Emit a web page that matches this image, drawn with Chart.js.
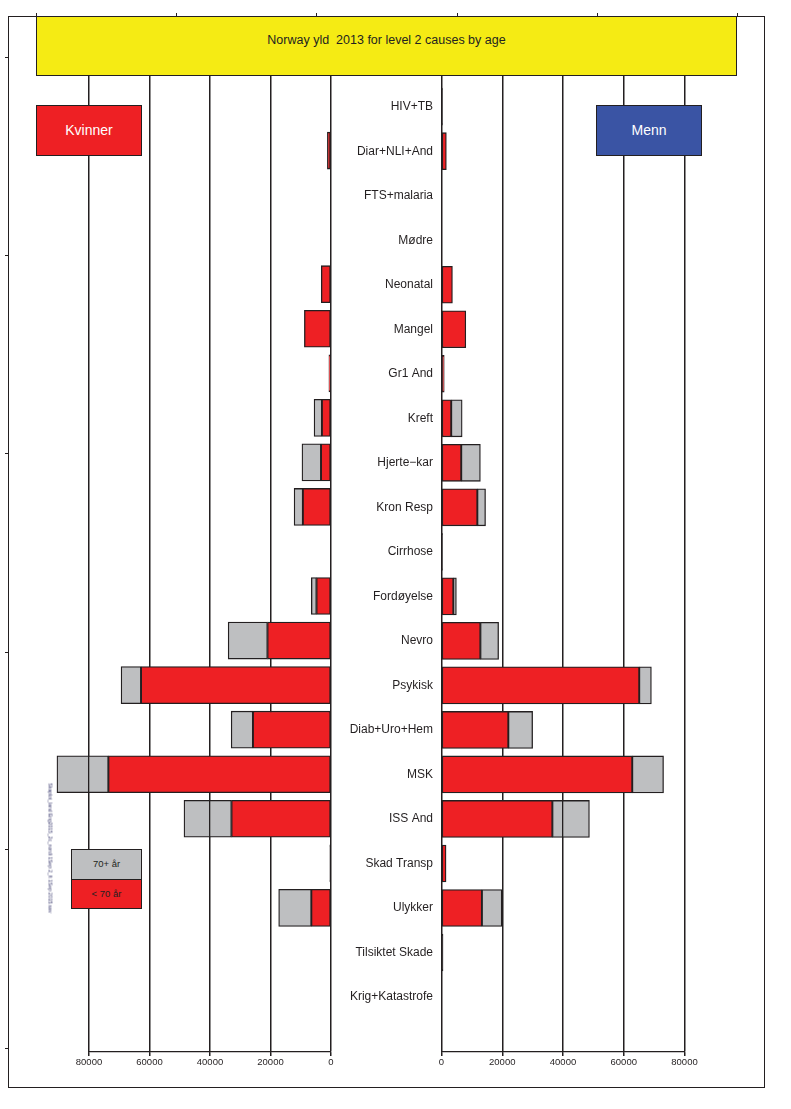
<!DOCTYPE html>
<html>
<head>
<meta charset="utf-8">
<title>Norway yld 2013 for level 2 causes by age</title>
<script src="https://cdn.jsdelivr.net/npm/chart.js@4.4.0/dist/chart.umd.min.js"></script>
<style>
  * { box-sizing: border-box; }
  body { margin: 0; background: #fff; font-family: "Liberation Sans", Arial, sans-serif; color: #231F20; }
  #page { position: relative; width: 791px; height: 1109px; overflow: hidden; }
  .abs { position: absolute; }
  #frame { left: 8px; top: 15.5px; width: 757px; height: 1072px; border: 1.5px solid #231F20; }
  .tick-top { top: 13px; width: 1.2px; height: 3px; background: #231F20; }
  .tick-left { left: 5px; width: 3px; height: 1.2px; background: #231F20; }
  #title { left: 36px; top: 16px; width: 701px; height: 59.5px; background: #F5EB14; border: 1.2px solid #231F20;
           text-align: center; font-size: 12.5px; line-height: 16px; padding-top: 15px; white-space: pre; z-index: 3; }
  .sexbox { top: 105px; width: 106px; height: 50.5px; border: 1.3px solid #231F20; color: #fff;
            font-size: 14px; line-height: 48px; text-align: center; z-index: 3; }
  #kvinner { left: 36px; background: #EE2024; }
  #menn { left: 596px; background: #3A54A4; }
  .legend { left: 71px; width: 71px; border: 1.3px solid #231F20; font-size: 9.5px; text-align: center; z-index: 3; }
  #leg-old { top: 849px; height: 31px; line-height: 28px; background: #BEBFC1; }
  #leg-young { top: 879px; height: 30px; line-height: 27px; background: #EE2024; }
  #stamp { left: -22px; top: 845px; width: 145px; font-size: 5px; color: #34346a; transform: rotate(90deg);
           white-space: nowrap; text-align: center; }
  canvas { position: absolute; }
  #left-chart { left: 40px; top: 60px; }
  #right-chart { left: 336px; top: 60px; }
</style>
</head>
<body>
<div id="page">
  <div id="frame" class="abs"></div>
  <canvas id="left-chart" width="310" height="1017"></canvas>
  <canvas id="right-chart" width="380" height="1017"></canvas>
  <div id="title" class="abs">Norway yld  2013 for level 2 causes by age</div>
  <div id="kvinner" class="abs sexbox">Kvinner</div>
  <div id="menn" class="abs sexbox">Menn</div>
  <div id="leg-old" class="abs legend">70+ år</div>
  <div id="leg-young" class="abs legend">&lt; 70 år</div>
  <div id="stamp" class="abs">Skaplot_land Eng2015_2c_nordi 1Sep 2_ft 1Sep 2015.sav</div>
</div>
<script>
  const categories = ["HIV+TB", "Diar+NLI+And", "FTS+malaria", "Mødre", "Neonatal", "Mangel", "Gr1 And",
    "Kreft", "Hjerte\u2212kar", "Kron Resp", "Cirrhose", "Fordøyelse", "Nevro", "Psykisk", "Diab+Uro+Hem",
    "MSK", "ISS And", "Skad Transp", "Ulykker", "Tilsiktet Skade", "Krig+Katastrofe"];

  // Kvinner (women): under 70 and 70+
  const kvinnerUnder70 = [0, 1200, 0, 0, 3200, 8800, 700, 3000, 3300, 9300, 0, 4800, 21000, 62800, 25800,
    73600, 32900, 400, 6500, 100, 0];
  const kvinner70Plus = [0, 0, 0, 0, 0, 0, 0, 2600, 6300, 2900, 0, 1700, 13000, 6600, 7200,
    17000, 15700, 0, 10800, 0, 0];

  // Menn (men): under 70 and 70+
  const mennUnder70 = [300, 1600, 0, 0, 3600, 8000, 900, 3200, 6500, 11800, 300, 3900, 12800, 65100, 22000,
    62800, 36500, 1500, 13300, 500, 0];
  const menn70Plus = [0, 0, 0, 0, 0, 0, 0, 3600, 6300, 2700, 0, 1000, 6000, 4000, 8000,
    10300, 12200, 0, 6600, 0, 0];

  const xTicks = [0, 20000, 40000, 60000, 80000];

  const RED = "#EE2024";
  const GREY = "#BEBFC1";
  const INK = "#231F20";

  Chart.defaults.font.family = "'Liberation Sans', Arial, sans-serif";
  Chart.defaults.color = INK;

  function toPoints(values) {
    return values.map((v, i) => ({ x: v, y: i }));
  }

  // very thin bars look like black strokes in the original
  function edgeFill(values, fill) {
    return values.map((v) => (v > 0 && v < 700 ? INK : fill));
  }

  function makeDatasets(young, old) {
    return [
      { label: "< 70 år", data: toPoints(young), backgroundColor: edgeFill(young, RED), borderColor: INK,
        borderWidth: 1.3, borderSkipped: false, barThickness: 37, clip: false },
      { label: "70+ år", data: toPoints(old), backgroundColor: GREY, borderColor: INK,
        borderWidth: 1.3, borderSkipped: false, barThickness: 37, clip: false }
    ];
  }

  // the grid shows through the grey (70+) bars but not the red ones
  const gridOverGrey = {
    id: "gridOverGrey",
    afterDatasetDraw(chart, args) {
      if (args.index === 1) chart.scales.x.drawGrid(chart.chartArea);
    }
  };

  function xScale(reverse) {
    return {
      type: "linear",
      stacked: true,
      reverse: reverse,
      min: 0,
      max: 80000,
      afterBuildTicks: (axis) => { axis.ticks = xTicks.map((v) => ({ value: v })); },
      afterFit: (axis) => { axis.height = 25; },
      grid: { color: INK, lineWidth: 1.3, tickLength: 4, drawTicks: true, tickColor: INK },
      border: { display: true, color: INK, width: 1.3 },
      ticks: {
        padding: 1,
        maxRotation: 0,
        font: { size: 9.5 },
        callback: (v) => String(v)
      }
    };
  }

  function yScale(showLabels) {
    const scale = {
      type: "linear",
      stacked: true,
      reverse: true,
      offset: false,
      min: -0.696,
      max: 21.235,
      display: showLabels,
      position: "left",
      afterBuildTicks: (axis) => { axis.ticks = categories.map((c, i) => ({ value: i })); },
      grid: { display: false, drawTicks: false, offset: false },
      border: { display: false },
      ticks: {
        padding: 8.5,
        font: { size: 12 },
        color: INK,
        autoSkip: false,
        callback: (v) => categories[v]
      }
    };
    if (showLabels) scale.afterFit = (axis) => { axis.width = 105.5; };
    return scale;
  }

  const baseOptions = {
    indexAxis: "y",
    responsive: false,
    animation: false,
    plugins: { legend: { display: false }, tooltip: { enabled: false } }
  };

  new Chart(document.getElementById("left-chart"), {
    type: "bar",
    data: { datasets: makeDatasets(kvinnerUnder70, kvinner70Plus) },
    options: {
      ...baseOptions,
      layout: { padding: { left: 49, right: 19, top: 15, bottom: 0 } },
      scales: { x: xScale(true), y: yScale(false) }
    },
    plugins: [gridOverGrey]
  });

  new Chart(document.getElementById("right-chart"), {
    type: "bar",
    data: { datasets: makeDatasets(mennUnder70, menn70Plus) },
    options: {
      ...baseOptions,
      layout: { padding: { left: 0, right: 31.5, top: 15, bottom: 0 } },
      scales: { x: xScale(false), y: yScale(true) }
    },
    plugins: [gridOverGrey]
  });

  // small outer ticks on the frame
  const page = document.getElementById("page");
  [36, 176, 316, 457, 597, 737].forEach((x) => {
    const t = document.createElement("div");
    t.className = "abs tick-top";
    t.style.left = x + "px";
    page.appendChild(t);
  });
  [57, 255, 453, 652, 849, 1048].forEach((y) => {
    const t = document.createElement("div");
    t.className = "abs tick-left";
    t.style.top = y + "px";
    page.appendChild(t);
  });
</script>
</body>
</html>
